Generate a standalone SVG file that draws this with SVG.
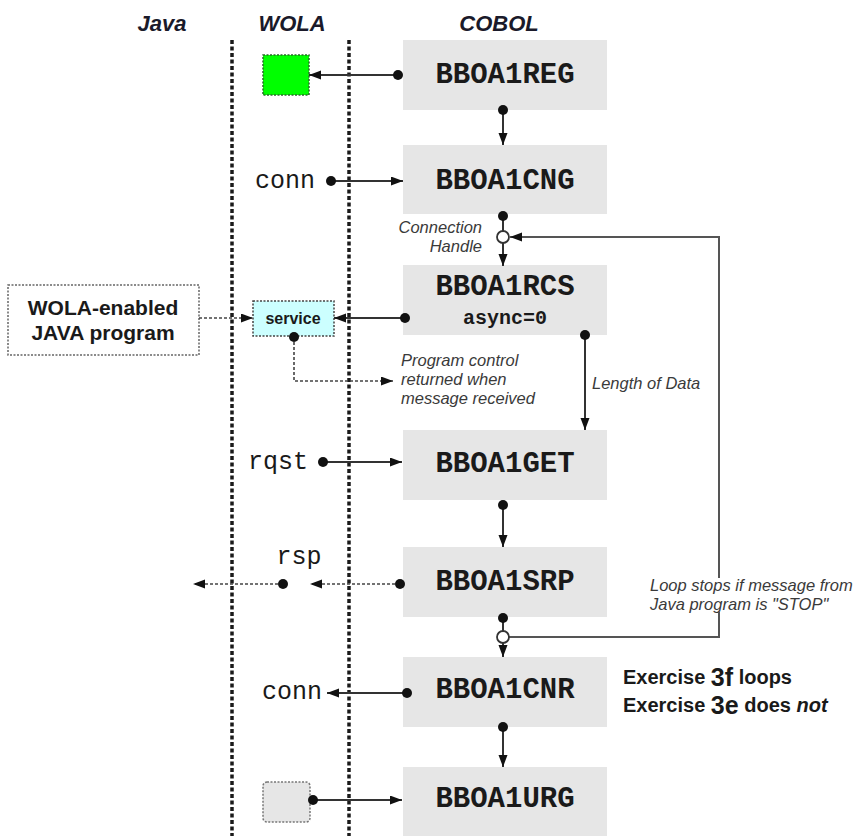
<svg xmlns="http://www.w3.org/2000/svg" width="862" height="836" viewBox="0 0 862 836">
<style>
.box{fill:#e6e6e6}
.mono{font-family:"Liberation Mono",monospace;fill:#1a1a1a}
.name{font-size:29px;font-weight:bold}
.hdr{font-family:"Liberation Sans",Arial,sans-serif;font-size:22px;font-weight:bold;font-style:italic;fill:#1a1a2a}
.note{font-family:"Liberation Sans",Arial,sans-serif;font-size:16.5px;font-style:italic;fill:#3a3a3a}
.bold{font-family:"Liberation Sans",Arial,sans-serif;font-weight:bold;fill:#1a1a1a}
.ln{stroke:#333;stroke-width:2;fill:none}
.dot{fill:#111}
.dsh{stroke:#444;stroke-width:1.6;fill:none;stroke-dasharray:3 2}
.lane{stroke:#1a1a1a;stroke-width:3.5;stroke-dasharray:4 2.5}
.loop{stroke:#555;stroke-width:2;fill:none}
</style>
<defs>
<marker id="ah" markerUnits="userSpaceOnUse" markerWidth="13" markerHeight="10" refX="12" refY="4.5" orient="auto">
<path d="M0,0 L12,4.5 L0,9 z" fill="#111"/>
</marker>
</defs>
<rect width="862" height="836" fill="#fff"/>
<g id="lanes">
<line class="lane" x1="232" y1="40" x2="232" y2="836"/>
<line class="lane" x1="349" y1="40" x2="349" y2="836"/>
</g>
<g id="headers">
<text class="hdr" x="162" y="23" text-anchor="middle" dominant-baseline="central">Java</text>
<text class="hdr" x="292" y="23" text-anchor="middle" dominant-baseline="central">WOLA</text>
<text class="hdr" x="499" y="23" text-anchor="middle" dominant-baseline="central">COBOL</text>
</g>
<g id="BBOA1REG"><rect class="box" x="403" y="40" width="204" height="70"/><text class="mono name" x="505" y="75" text-anchor="middle" dominant-baseline="central">BBOA1REG</text></g>
<g id="BBOA1CNG"><rect class="box" x="403" y="145" width="204" height="69"/><text class="mono name" x="505" y="181" text-anchor="middle" dominant-baseline="central">BBOA1CNG</text></g>
<g id="BBOA1RCS"><rect class="box" x="403" y="265" width="204" height="70"/><text class="mono name" x="505" y="287" text-anchor="middle" dominant-baseline="central">BBOA1RCS</text><text class="mono" x="505" y="318" font-size="20" font-weight="bold" text-anchor="middle" dominant-baseline="central">async=0</text></g>
<g id="BBOA1GET"><rect class="box" x="403" y="430" width="204" height="70"/><text class="mono name" x="505" y="464" text-anchor="middle" dominant-baseline="central">BBOA1GET</text></g>
<g id="BBOA1SRP"><rect class="box" x="403" y="547" width="204" height="70"/><text class="mono name" x="505" y="582" text-anchor="middle" dominant-baseline="central">BBOA1SRP</text></g>
<g id="BBOA1CNR"><rect class="box" x="403" y="657" width="204" height="70"/><text class="mono name" x="505" y="690" text-anchor="middle" dominant-baseline="central">BBOA1CNR</text></g>
<g id="BBOA1URG"><rect class="box" x="403" y="767" width="204" height="69"/><text class="mono name" x="505" y="799" text-anchor="middle" dominant-baseline="central">BBOA1URG</text></g>
<g id="reg-token"><rect x="263" y="55" width="46" height="40" fill="#00ff00" stroke="#2a6a2a" stroke-width="1.5" stroke-dasharray="2 1.5"/></g>
<g id="urg-token"><rect x="263" y="782" width="47" height="40" rx="4" fill="#e6e6e6" stroke="#777" stroke-width="1.5" stroke-dasharray="2 1.5"/></g>
<g id="java-program"><rect x="8" y="285" width="191" height="70" fill="#fff" stroke="#666" stroke-width="1.5" stroke-dasharray="2 1.5"/><text class="bold" x="103" y="307" font-size="21" text-anchor="middle" dominant-baseline="central">WOLA-enabled</text><text class="bold" x="103" y="332" font-size="21" text-anchor="middle" dominant-baseline="central">JAVA program</text></g>
<g id="service"><rect x="253" y="301" width="81" height="35" fill="#ccffff" stroke="#444" stroke-width="1.5" stroke-dasharray="2 1.5"/><text class="bold" x="293" y="318" font-size="16" text-anchor="middle" dominant-baseline="central">service</text></g>
<g id="labels">
<text class="mono" x="285" y="181" font-size="25" text-anchor="middle" dominant-baseline="central">conn</text>
<text class="mono" x="278" y="462" font-size="25" text-anchor="middle" dominant-baseline="central">rqst</text>
<text class="mono" x="299" y="557" font-size="25" text-anchor="middle" dominant-baseline="central">rsp</text>
<text class="mono" x="292" y="692" font-size="25" text-anchor="middle" dominant-baseline="central">conn</text>
<text class="note" x="482" y="227" text-anchor="end" dominant-baseline="central">Connection</text>
<text class="note" x="482" y="246" text-anchor="end" dominant-baseline="central">Handle</text>
<text class="note" x="401" y="360" dominant-baseline="central">Program control</text>
<text class="note" x="401" y="379" dominant-baseline="central">returned when</text>
<text class="note" x="401" y="398" dominant-baseline="central">message received</text>
<text class="note" x="592" y="383" dominant-baseline="central">Length of Data</text>
<text class="note" x="650" y="585" dominant-baseline="central">Loop stops if message from</text>
<text class="note" x="650" y="604" dominant-baseline="central">Java program is "STOP"</text>
<text class="bold" x="623" y="677" font-size="20" dominant-baseline="central">Exercise <tspan font-size="25">3f</tspan> loops</text>
<text class="bold" x="623" y="705" font-size="20" dominant-baseline="central">Exercise <tspan font-size="25">3e</tspan> does <tspan font-style="italic">not</tspan></text>
</g>
<g id="connectors">
<line class="ln" x1="398" y1="75" x2="309" y2="75" marker-end="url(#ah)"/>
<circle class="dot" cx="398" cy="75" r="5"/>
<line class="ln" x1="503" y1="110" x2="503" y2="145" marker-end="url(#ah)"/>
<circle class="dot" cx="503" cy="110" r="5"/>
<line class="ln" x1="331" y1="181" x2="403" y2="181" marker-end="url(#ah)"/>
<circle class="dot" cx="331" cy="181" r="5"/>
<line class="ln" x1="503" y1="216" x2="503" y2="231"/>
<circle class="dot" cx="503" cy="216" r="5"/>
<line class="ln" x1="503" y1="243" x2="503" y2="266" marker-end="url(#ah)"/>
<polyline class="loop" points="719,578 719,237 510,237" marker-end="url(#ah)"/>
<polyline class="loop" points="719,612 719,637 509,637"/>
<circle cx="503" cy="237" r="6" fill="#fff" stroke="#333" stroke-width="1.8"/>
<line class="dsh" x1="199" y1="318" x2="253" y2="318" marker-end="url(#ah)"/>
<line class="ln" x1="405" y1="318" x2="334" y2="318" marker-end="url(#ah)"/>
<circle class="dot" cx="405" cy="318" r="5"/>
<polyline class="dsh" points="294,337 294,381 393,381" marker-end="url(#ah)"/>
<circle class="dot" cx="294" cy="337" r="5"/>
<line class="ln" x1="585" y1="335" x2="585" y2="430" marker-end="url(#ah)"/>
<circle class="dot" cx="585" cy="335" r="5"/>
<line class="ln" x1="323" y1="462" x2="402" y2="462" marker-end="url(#ah)"/>
<circle class="dot" cx="323" cy="462" r="5"/>
<line class="ln" x1="503" y1="505" x2="503" y2="547" marker-end="url(#ah)"/>
<circle class="dot" cx="503" cy="505" r="5"/>
<line class="dsh" x1="400" y1="584" x2="310" y2="584" marker-end="url(#ah)"/>
<circle class="dot" cx="400" cy="584" r="5"/>
<line class="dsh" x1="283" y1="584" x2="193" y2="584" marker-end="url(#ah)"/>
<circle class="dot" cx="283" cy="584" r="5"/>
<line class="ln" x1="503" y1="618" x2="503" y2="631"/>
<circle class="dot" cx="503" cy="618" r="5"/>
<line class="ln" x1="503" y1="643" x2="503" y2="657" marker-end="url(#ah)"/>
<circle cx="503" cy="637" r="6" fill="#fff" stroke="#333" stroke-width="1.8"/>
<line class="ln" x1="407" y1="693" x2="327" y2="693" marker-end="url(#ah)"/>
<circle class="dot" cx="407" cy="693" r="5"/>
<line class="ln" x1="503" y1="727" x2="503" y2="767" marker-end="url(#ah)"/>
<circle class="dot" cx="503" cy="727" r="5"/>
<line class="ln" x1="313" y1="800" x2="402" y2="800" marker-end="url(#ah)"/>
<circle class="dot" cx="313" cy="800" r="5"/>
</g>
</svg>
